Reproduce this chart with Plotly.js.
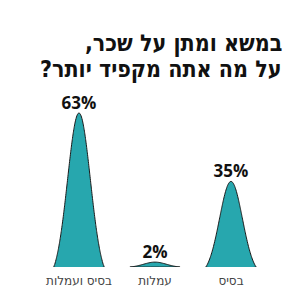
<!DOCTYPE html>
<html>
<head>
<meta charset="utf-8">
<script src="https://cdn.plot.ly/plotly-3.0.1.min.js"></script>
<style>html,body{margin:0;padding:0;background:#fff;}#chart{width:300px;height:300px;}</style>
</head>
<body>
<div id="chart"></div>
<script>
// Data
var categories = ["בסיס", "עמלות", "בסיס ועמלות"];
var values = [35, 2, 63];
var valueLabels = ["35%", "2%", "63%"];
var titleLines = ["במשא ומתן על שכר,", "על מה אתה מקפיד יותר?"];

// Peak glyph profile (shape only; height comes from the value)
var HALF = 0.33, SIGMA = 0.15, STEPS = 60;
function peakShape(center, value) {
  var xs = [], ys = [];
  var e0 = Math.exp(-HALF * HALF / (2 * SIGMA * SIGMA));
  for (var k = 0; k <= STEPS; k++) {
    var t = -HALF + (2 * HALF) * k / STEPS;
    var g = (Math.exp(-t * t / (2 * SIGMA * SIGMA)) - e0) / (1 - e0);
    xs.push(center + t);
    ys.push(value * g);
  }
  xs.push(xs[0]); ys.push(0);
  return {x: xs, y: ys};
}

var RLM = "\u200F";
var traces = [];
categories.forEach(function (c, i) {
  var s = peakShape(i, values[i]);
  traces.push({
    type: 'scatter', mode: 'lines', x: s.x, y: s.y,
    fill: 'toself', fillcolor: '#27a7ae',
    line: {color: '#1a1a1a', width: 1, shape: 'spline', smoothing: 0.6},
    hoverinfo: 'skip', showlegend: false
  });
});
traces.push({
  type: 'scatter', mode: 'text',
  x: categories.map(function (c, i) { return i; }),
  y: values, text: valueLabels, textposition: 'top center',
  textfont: {family: 'Open Sans, DejaVu Sans, sans-serif', size: 17, color: '#111', weight: 'bold'},
  cliponaxis: false, showlegend: false, hoverinfo: 'skip'
});

var layout = {
  width: 300, height: 300,
  margin: {l: 0, r: 0, t: 100, b: 33},
  paper_bgcolor: '#fff', plot_bgcolor: '#fff',
  showlegend: false,
  xaxis: {
    range: [3.039, -0.908], tickvals: [0, 1, 2], ticktext: categories,
    showgrid: false, zeroline: false, showline: false, ticks: '',
    ticklabelstandoff: 5,
    tickfont: {family: 'DejaVu Sans, sans-serif', size: 12, color: '#444'},
    fixedrange: true
  },
  yaxis: {range: [0, 68.3], visible: false, showgrid: false, zeroline: false, fixedrange: true},
  annotations: titleLines.map(function (t, i) {
    return {
      text: t + RLM, xref: 'paper', yref: 'paper', x: 284 / 300, xanchor: 'right',
      y: 1 + (100 - (43 + 27 * i)) / 167, yanchor: 'middle', showarrow: false,
      font: {family: 'DejaVu Sans Condensed, DejaVu Sans, sans-serif', size: 23, color: '#111', weight: 'bold'}
    };
  })
};

Plotly.newPlot('chart', traces, layout, {displayModeBar: false, staticPlot: true});
</script>
</body>
</html>
